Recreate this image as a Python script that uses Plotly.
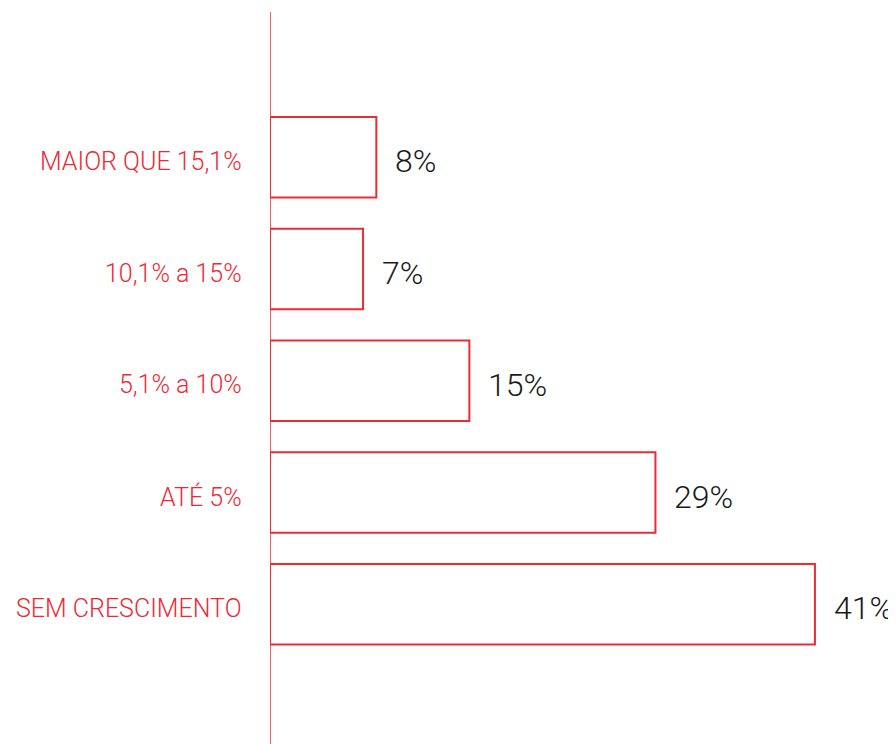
import plotly.graph_objects as go

categorias = ["SEM CRESCIMENTO", "ATÉ 5%", "5,1% a 10%", "10,1% a 15%", "MAIOR QUE 15,1%"]
valores = [41, 29, 15, 7, 8]
rotulos = ["41%", "29%", "15%", "7%", "8%"]

vermelho = "#EE2A35"

fig = go.Figure()
fig.add_trace(go.Bar(
    x=valores, y=categorias, orientation="h",
    marker=dict(color="white", line=dict(color=vermelho, width=2)),
    width=0.72, hoverinfo="skip",
))

for v, c, t in zip(valores, categorias, rotulos):
    fig.add_annotation(x=v, y=c, text=t, showarrow=False, xanchor="left",
                       xshift=17, yshift=-4,
                       font=dict(family="Roboto", size=32, color="#1a1a1a", weight=300))
    # rótulo da categoria, um pouco abaixo do centro como no original
    fig.add_annotation(x=0, y=c, text=c, showarrow=False, xanchor="right",
                       xshift=-26, yshift=-4,
                       font=dict(family="Roboto", size=25, color=vermelho, weight=300))

# linha vertical do eixo
fig.add_shape(type="line", xref="x", yref="paper", x0=0, x1=0, y0=0, y1=1,
              line=dict(color=vermelho, width=1.5), layer="below")

fig.update_layout(
    width=888, height=736,
    margin=dict(l=262, r=0, t=4, b=0),
    plot_bgcolor="white", paper_bgcolor="white",
    showlegend=False,
    xaxis=dict(range=[0, 47.1], visible=False, showline=False, zeroline=False, showgrid=False),
    yaxis=dict(range=[-1.25, 5.3], showline=False, zeroline=False,
               showgrid=False, ticks="", showticklabels=False),
)

fig.write_html("out.html")
